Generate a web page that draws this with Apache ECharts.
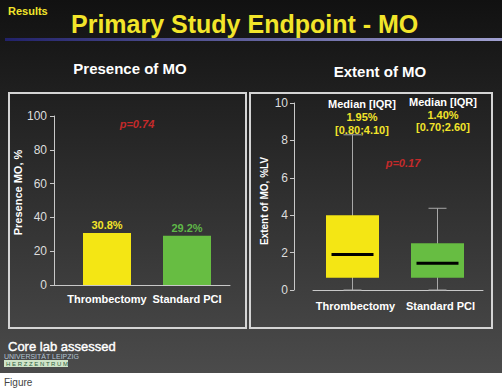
<!DOCTYPE html>
<html>
<head>
<meta charset="utf-8">
<script src="https://cdn.jsdelivr.net/npm/echarts@6/dist/echarts.min.js"></script>
<style>
html,body{margin:0;padding:0;background:#fff;}
#c{width:502px;height:391px;}
</style>
</head>
<body>
<div id="c"></div>
<script>
// ---- data ----
const categories = ['Thrombectomy', 'Standard PCI'];
const presenceValues = [30.8, 29.2];
const presenceLabelColors = ['#f2e42a', '#5fb848'];
const extentMin = [0, 0];
const extentQ1 = [0.65, 0.65];
const extentMedian = [1.9, 1.43];
const extentQ3 = [4.0, 2.5];
const extentMax = [8.3, 4.37];
const medianHeader = ['Median [IQR]', 'Median [IQR]'];
const medianText = ['1.95%', '1.40%'];
const iqrText = ['[0.80;4.10]', '[0.70;2.60]'];
const presenceP = 'p=0.74';
const extentP = 'p=0.17';

const FONT = '"Liberation Sans", Arial, sans-serif';
const chart = echarts.init(document.getElementById('c'), null, {renderer: 'svg'});

const boxData = categories.map((c, i) => [i, extentMin[i], extentQ1[i], extentMedian[i], extentQ3[i], extentMax[i]]);
const boxFill = ['#f4e614', '#67bd42'];

function txt(text, x, y, size, color, extra) {
  return {
    type: 'text', x: x, y: y,
    style: Object.assign({text: text, fontSize: size, fill: color, fontFamily: FONT, align: 'center', verticalAlign: 'middle'}, extra || {})
  };
}

const option = {
  backgroundColor: '#ffffff',
  animation: false,
  graphic: [
    {type: 'rect', z: -10, shape: {x: 0, y: 0, width: 502, height: 373},
     style: {fill: new echarts.graphic.LinearGradient(0, 0, 0, 1, [{offset: 0, color: '#111111'}, {offset: 1, color: '#4b4b4b'}])}},
    {type: 'rect', z: -9, shape: {x: 5, y: 38, width: 497, height: 3},
     style: {fill: new echarts.graphic.LinearGradient(0, 0, 1, 0, [{offset: 0, color: '#22226a'}, {offset: 1, color: '#a0a0d0'}])}},
    txt('Results', 8, 11, 11, '#f2e52a', {align: 'left', fontWeight: 'bold'}),
    txt('Primary Study Endpoint - MO', 71, 24, 25, '#f2e52a', {align: 'left', fontWeight: 'bold'}),
    txt('Presence of MO', 130, 68, 15, '#ffffff', {fontWeight: 'bold'}),
    txt('Extent of MO', 380, 71.5, 15, '#ffffff', {fontWeight: 'bold'}),
    {type: 'rect', z: -5, shape: {x: 9, y: 93, width: 237, height: 235}, style: {fill: 'none', stroke: '#d4d4d4', lineWidth: 2}},
    {type: 'rect', z: -5, shape: {x: 250, y: 93, width: 242, height: 235}, style: {fill: 'none', stroke: '#d4d4d4', lineWidth: 2}},
    txt(presenceP, 137, 124, 11, '#c42a2a', {fontWeight: 'bold', fontStyle: 'italic'}),
    txt(extentP, 403, 163, 11, '#c42a2a', {fontWeight: 'bold', fontStyle: 'italic'}),
    txt(medianHeader[0], 362, 104, 11, '#ffffff', {fontWeight: 'bold'}),
    txt(medianText[0], 362, 117, 11, '#f2e42a', {fontWeight: 'bold'}),
    txt(iqrText[0], 362, 130, 11, '#f2e42a', {fontWeight: 'bold'}),
    txt(medianHeader[1], 443, 102, 11, '#ffffff', {fontWeight: 'bold'}),
    txt(medianText[1], 443, 115, 11, '#f2e42a', {fontWeight: 'bold'}),
    txt(iqrText[1], 443, 127, 11, '#f2e42a', {fontWeight: 'bold'}),
    txt('Core lab assessed', 8, 346, 13, '#ffffff', {align: 'left', stroke: '#ffffff', lineWidth: 0.4}),
    txt('UNIVERSITÄT LEIPZIG', 4, 356, 7, '#b4c4d4', {align: 'left'}),
    {type: 'rect', shape: {x: 4, y: 360, width: 64, height: 7}, style: {fill: '#cfe4c8'}},
    txt('H E R Z Z E N T R U M', 6, 363.5, 6, '#2f5f3f', {align: 'left'}),
    txt('Figure', 4, 382, 10, '#444444', {align: 'left'})
  ],
  grid: [
    {left: 54, top: 116, width: 176, height: 169},
    {left: 67, top: 116, width: 160, height: 169},
    {left: 313, top: 103, width: 170, height: 187}
  ],
  xAxis: [
    {gridIndex: 0, type: 'value', min: 0, max: 1, axisLine: {show: true, lineStyle: {color: '#c8c8c8', width: 1}},
     axisTick: {show: false}, axisLabel: {show: false}, splitLine: {show: false}},
    {gridIndex: 1, type: 'category', data: categories, axisLine: {show: false}, axisTick: {show: false},
     axisLabel: {interval: 0, color: '#ffffff', fontSize: 11, fontWeight: 'bold', fontFamily: FONT, margin: 8}},
    {gridIndex: 2, type: 'category', data: categories, offset: 2,
     axisLine: {show: true, lineStyle: {color: '#c8c8c8', width: 1}}, axisTick: {show: false},
     axisLabel: {interval: 0, color: '#ffffff', fontSize: 11, fontWeight: 'bold', fontFamily: FONT, margin: 8}}
  ],
  yAxis: [
    {gridIndex: 0, type: 'value', min: 0, max: 100, interval: 20,
     name: 'Presence MO, %', nameLocation: 'middle', nameGap: 27,
     nameTextStyle: {color: '#ffffff', fontSize: 11, fontWeight: 'bold', fontFamily: FONT, padding: [0, 0, 0, 16]},
     axisLine: {show: true, lineStyle: {color: '#c8c8c8'}}, axisTick: {show: true, length: 4, lineStyle: {color: '#c8c8c8'}},
     axisLabel: {color: '#dddddd', fontSize: 12, fontFamily: FONT, margin: 7}, splitLine: {show: false}},
    {gridIndex: 1, type: 'value', min: 0, max: 100, show: false},
    {gridIndex: 2, type: 'value', min: 0, max: 10, interval: 2, offset: 19,
     name: 'Extent of MO, %LV', nameLocation: 'middle', nameGap: 25,
     nameTextStyle: {color: '#ffffff', fontSize: 10, fontWeight: 'bold', fontFamily: FONT, padding: [0, 9, 0, 0]},
     axisLine: {show: true, lineStyle: {color: '#c8c8c8'}}, axisTick: {show: true, length: 4, lineStyle: {color: '#c8c8c8'}},
     axisLabel: {color: '#dddddd', fontSize: 12, fontFamily: FONT, margin: 6}, splitLine: {show: false}}
  ],
  series: [
    {type: 'bar', xAxisIndex: 1, yAxisIndex: 1, barWidth: 48,
     data: presenceValues.map((v, i) => ({value: v, itemStyle: {color: boxFill[i]},
       label: {color: presenceLabelColors[i]}})),
     label: {show: true, position: 'top', distance: 2, fontSize: 11, fontWeight: 'bold', fontFamily: FONT,
       formatter: p => p.value.toFixed(1) + '%'}},
    {type: 'custom', xAxisIndex: 2, yAxisIndex: 2, data: boxData,
     encode: {x: 0, y: [1, 2, 3, 4, 5]},
     renderItem: function (params, api) {
       const i = api.value(0);
       const lo = api.coord([i, api.value(1)]);
       const q1 = api.coord([i, api.value(2)]);
       const md = api.coord([i, api.value(3)]);
       const q3 = api.coord([i, api.value(4)]);
       const hi = api.coord([i, api.value(5)]);
       const cx = lo[0] - 3;
       const bw = 53, mw = 42, cw = 18;
       const ws = {stroke: '#a8a8a8', lineWidth: 1};
       return {type: 'group', children: [
         {type: 'line', shape: {x1: cx, y1: lo[1], x2: cx, y2: hi[1]}, style: ws},
         {type: 'line', shape: {x1: cx - cw / 2, y1: lo[1], x2: cx + cw / 2, y2: lo[1]}, style: ws},
         {type: 'line', shape: {x1: cx - cw / 2, y1: hi[1], x2: cx + cw / 2, y2: hi[1]}, style: ws},
         {type: 'rect', shape: {x: cx - bw / 2, y: q3[1], width: bw, height: q1[1] - q3[1]}, style: {fill: boxFill[params.dataIndex]}},
         {type: 'line', shape: {x1: cx - mw / 2, y1: md[1], x2: cx + mw / 2, y2: md[1]}, style: {stroke: '#000000', lineWidth: 3}}
       ]};
     }}
  ]
};
chart.setOption(option);
</script>
</body>
</html>
